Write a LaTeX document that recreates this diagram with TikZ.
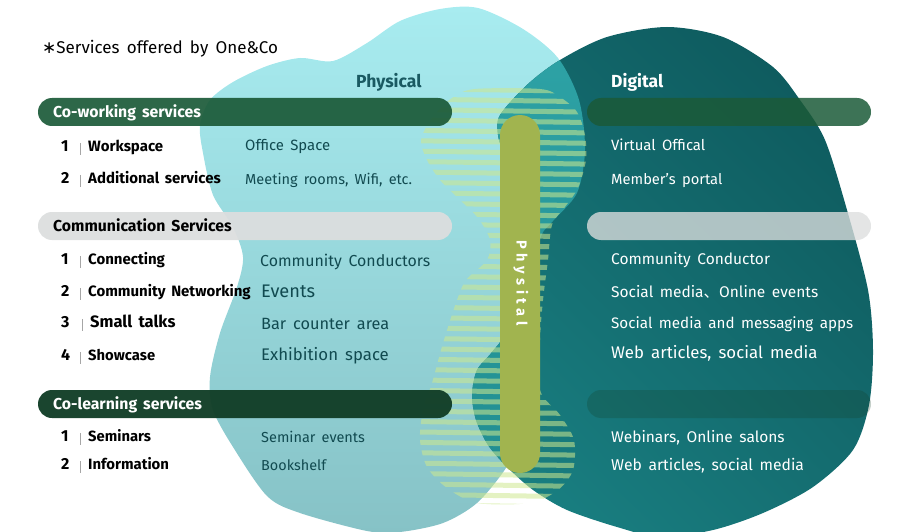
\documentclass[tikz,border=0pt]{standalone}
\usepackage{fontspec}
\usetikzlibrary{shadings}
\setmainfont{Fira Sans}[WordSpace=1.6]
\newfontfamily\dejavu{DejaVu Sans}
\newfontfamily\cjk{Noto Sans CJK JP}
\definecolor{lightT}{HTML}{A8ECF0}
\definecolor{lightB}{HTML}{86C2C6}
\definecolor{ovT}{HTML}{2EA3A6}
\definecolor{ovB}{HTML}{1F8B8F}
\definecolor{dkUL}{HTML}{13686C}
\definecolor{dkUR}{HTML}{0C5558}
\definecolor{dkLL}{HTML}{1A8486}
\definecolor{dkLR}{HTML}{156E71}
\definecolor{stripeC}{HTML}{CDE88F}
\definecolor{barG}{HTML}{A1B44F}
\definecolor{greenA}{HTML}{1B5A38}
\definecolor{greenB}{HTML}{133F28}
\definecolor{grayBar}{HTML}{DCDEDE}
\definecolor{physT}{HTML}{114A50}
\definecolor{physHead}{HTML}{1A5A62}
% #1 name, #2 y, #3 number, #4 label, #5 label size, #6 label x
\newcommand\myrow[6]{%
  \node[num] (n#1) at (61,#2) {#3};
  \node[item=#5] (i#1) at (#6,#2) {#4};
  \draw[sepline] ([xshift=-8pt,yshift=2pt]i#1.north west) -- ([xshift=-8pt,yshift=-2.5pt]i#1.south west);
}
\begin{document}
\begin{tikzpicture}[x=1pt,y=-1pt,
  lbl/.style={anchor=west,inner sep=0pt,text height=0.69em,text depth=0pt,yshift=-2.5pt},
  phys/.style={lbl,text=physT,font=\fontsize{#1}{#1}\selectfont},
  digi/.style={lbl,text=white,font=\fontsize{#1}{#1}\selectfont},
  item/.style={lbl,font=\bfseries\fontsize{#1}{#1}\selectfont},
  num/.style={lbl,font=\bfseries\fontsize{16}{16}\selectfont},
  head/.style={lbl,font=\bfseries\fontsize{15.8}{16}\selectfont},
  colhead/.style={lbl,font=\bfseries\fontsize{17.5}{18}\selectfont},
  sepline/.style={draw=gray!70,line width=0.9pt},
  pill/.style={rounded corners=14pt},
  stripe/.style={fill=stripeC,fill opacity=0.55}
]
\useasboundingbox (0,0) rectangle (908,532);
\def\lightpath{plot[smooth cycle] coordinates {(200,125) (210,100) (233,82) (267,66) (300,58) (333,61) (367,43) (400,21) (440,9) (478,8) (523,29) (558,58) (579,100) (585,150) (577,193) (553,221) (540,240) (536,300) (528,380) (518,440) (506,468) (477,503) (443,523) (400,532) (367,531) (300,513) (267,496) (233,447) (213,410) (210,377) (220,333) (237,287) (243,257) (233,227) (213,195) (203,153)}}
\def\darkpath{plot[smooth cycle] coordinates {(500,115) (528,84) (560,60) (607,37) (667,27) (723,37) (773,67) (800,100) (825,140) (847,210) (868,290) (873,350) (869,405) (853,450) (813,487) (763,513) (713,530) (660,537) (617,527) (567,510) (533,490) (507,467) (488,445) (476,420) (472,395) (477,370) (492,352) (504,330) (507,250) (503,160) (498,135)}}
\def\stripepath{plot[smooth cycle] coordinates {(475,89) (540,89) (560,97) (577,112) (585,135) (586,160) (578,188) (565,207) (552,225) (548,260) (543,300) (540,340) (540,390) (560,415) (574,440) (573,470) (558,490) (530,503) (477,503) (447,488) (427,467) (420,440) (423,410) (432,383) (441,350) (448,327) (457,300) (466,280) (487,260) (490,240) (478,218) (458,198) (440,180) (427,160) (421,140) (432,118) (452,98)}}
% blobs
\shade[top color=lightT,bottom color=lightB] \lightpath;
\shade[upper left=dkUL,upper right=dkUR,lower left=dkLL,lower right=dkLR] \darkpath;
\begin{scope}
  \clip \lightpath;
  \shade[top color=ovT,bottom color=ovB] \darkpath;
\end{scope}
% stripes
\begin{scope}
  \clip \stripepath;
  \foreach \s in {0,...,40} {
    \pgfmathsetmacro\ya{86+10.4*\s}
    \fill[stripe] (400,\ya) -- (600,\ya+3) -- (600,\ya+8) -- (400,\ya+5) -- cycle;
  }
\end{scope}
% vertical bar
\fill[barG,rounded corners=20pt] (500,115) rectangle (540,473);
\node[rotate=-90,inner sep=0pt,text=white,font=\bfseries\fontsize{14.5}{16}\selectfont\addfontfeatures{LetterSpace=32}] (phy) at (521,283) {Physital};
% horizontal bars
\fill[greenA,fill opacity=0.92,pill] (38,98) rectangle (452,126);
\fill[greenA,fill opacity=0.85,pill] (587,98) rectangle (871,126);
\fill[grayBar,fill opacity=0.95,pill] (38,212) rectangle (452,240);
\fill[grayBar,fill opacity=0.78,pill] (587,212) rectangle (871,240);
\fill[greenB,fill opacity=0.97,pill] (38,390) rectangle (452,418);
\fill[greenB,fill opacity=0.25,pill] (587,390) rectangle (871,418);
% title
\node[lbl,font=\fontsize{17}{17}\selectfont] (title) at (42,48) {{\dejavu ∗}Services offered by One\&Co};
\node[colhead,text=physHead] (hphys) at (356,82) {Physical};
\node[colhead,text=white] (hdig) at (611,82) {Digital};
% bar heads
\node[head,text=white] (h1) at (53,112) {Co-working services};
\node[head,text=black] (h2) at (53,226) {Communication Services};
\node[head,text=white] (h3) at (53,404) {Co-learning services};
% left rows
\myrow{a}{146}{1}{Workspace}{15}{88}
\myrow{b}{178}{2}{Additional services}{15}{88}
\myrow{c}{259}{1}{Connecting}{15}{88}
\myrow{d}{291}{2}{Community Networking}{15}{88}
\myrow{e}{322}{3}{Small talks}{16.5}{90}
\myrow{f}{355}{4}{Showcase}{14.8}{88}
\myrow{g}{436}{1}{Seminars}{14.8}{88}
\myrow{h}{464}{2}{Information}{14.9}{88}
% physical column
\node[phys=14.9] (pa) at (245,145) {Office Space};
\node[phys=14.5] (pb) at (245,179) {Meeting rooms, Wifi, etc.};
\node[phys=15.9] (pc) at (260,261) {Community Conductors};
\node[phys=18.2] (pd) at (261,292) {Events};
\node[phys=16.3] (pe) at (261,324) {Bar counter area};
\node[phys=16.8] (pf) at (261,355) {Exhibition space};
\node[phys=14.5] (pg) at (261,437) {Seminar events};
\node[phys=14.4] (ph) at (261,465) {Bookshelf};
% digital column
\node[digi=14.9] (da) at (611,145) {Virtual Offical};
\node[digi=14.7] (db) at (611,179) {Member's portal};
\node[digi=15.5] (dc) at (611,259) {Community Conductor};
\node[digi=15.5] (dd) at (611,292) {Social media{\cjk 、}Online events};
\node[digi=15.2] (de) at (611,323) {Social media and messaging apps};
\node[digi=16.8] (df) at (611,353) {Web articles, social media};
\node[digi=15.5] (dg) at (611,437) {Webinars, Online salons};
\node[digi=15.7] (dh) at (611,465) {Web articles, social media};
\end{tikzpicture}
\end{document}
